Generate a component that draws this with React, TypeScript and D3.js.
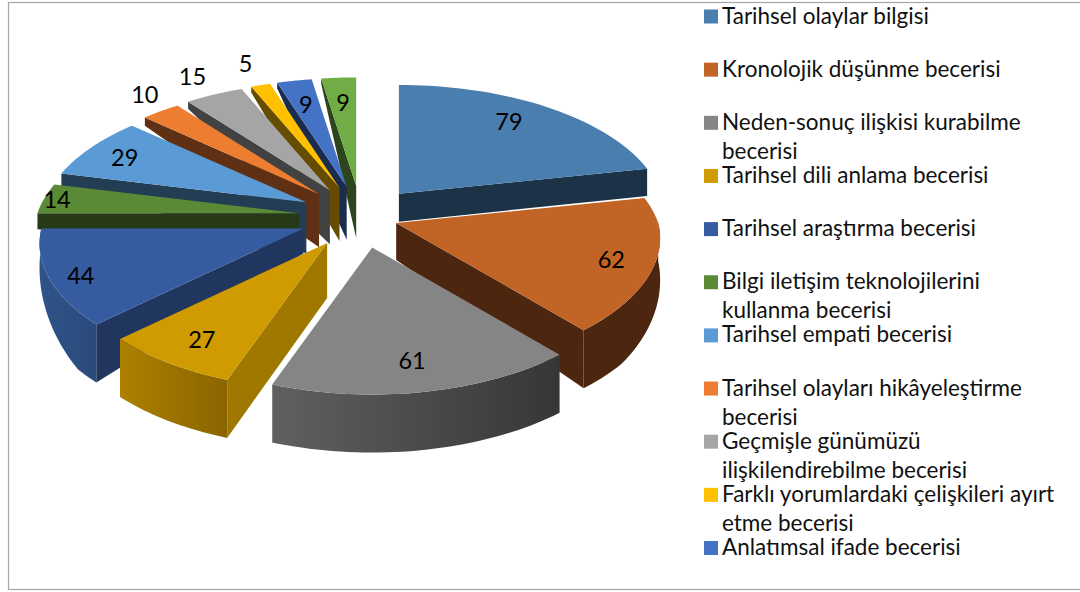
import React from "react";
import * as d3 from "d3";

// values, clockwise from 12 o'clock
const values = [79, 62, 61, 27, 44, 14, 29, 10, 15, 5, 9, 9];
const legendLines = [
  ["Tarihsel olaylar bilgisi"],
  ["Kronolojik düşünme becerisi"],
  ["Neden-sonuç ilişkisi kurabilme", "becerisi"],
  ["Tarihsel dili anlama becerisi"],
  ["Tarihsel araştırma becerisi"],
  ["Bilgi iletişim teknolojilerini", "kullanma becerisi"],
  ["Tarihsel empati becerisi"],
  ["Tarihsel olayları hikâyeleştirme", "becerisi"],
  ["Geçmişle günümüzü", "ilişkilendirebilme becerisi"],
  ["Farklı yorumlardaki çelişkileri ayırt", "etme becerisi"],
  ["Anlatımsal ifade becerisi"],
];

const topColors = ["#4a7eae", "#c26426", "#858585", "#cf9b00", "#355ca0", "#5b8a36", "#5a9ad5", "#ed7d31", "#a5a5a5", "#ffc000", "#4472c4", "#70ad47"];
const sideColors = ["#1b3247", "#4d260f", "#606060", "#a07800", "#20365f", "#263a18", "#233d55", "#5f3014", "#424242", "#664c00", "#1b2d4e", "#2c451c"];
// rim gradient (left, right) for the slices that show their outer wall
const rimColors: Record<number, [string, string]> = {
  1: ["#4d260f", "#4d260f"],
  2: ["#606060", "#363636"],
  3: ["#ad8000", "#8a6500"],
  4: ["#2f5488", "#2b4a7c"],
};

// how far each slice is pulled out of the pie
const explode = [0.97, 0.6, 1, 1, 1, 1, 1, 1, 1, 1, 1, 1];
// wall height at the slice's inner tip
const tipDrop = [28, 37, 37, 55, 25, 40, 51, 53, 54, 53, 53, 52];
// label place inside the slice: share of its angle, share of the radius
const labelT = [0.465, 0.514, 0.51, 0.47, 0.46, 0.5, 0.46, 0.74, 0.5, 0.54, 0.49, 0.515];
const labelR = [0.78, 0.842, 0.81, 0.82, 0.887, 0.949, 0.825, 1.18, 1.22, 1.24, 0.749, 0.749];

const width = 1080;
const height = 592;
const cx = 361;
const cy = 217;
const pullX = 62;
const pullY = 31;
const radiusX = 262;
const radiusY = 125;
const perspBack = 0.16;
const perspFront = 0.12;
const perspY = 0.15;

// wall height by how far back a rim point sits (cos of its angle)
const dropLeft = d3.scaleLinear().domain([-1, -0.6, -0.3, 0, 0.3, 1]).range([58, 58, 36, 16, 12, 5]);
const dropRight = d3.scaleLinear().domain([-1, -0.6, 0, 0.21, 1]).range([58, 58, 38, 27, 5]);
const rimDrop = (a: number) => (Math.sin(a) > 0 ? dropRight : dropLeft)(Math.cos(a));

const arcs = d3.pie<number>().sort(null).startAngle(0).endAngle(2 * Math.PI)(values);

const line = d3.line();
const DEG90 = Math.PI / 2;

const surface = (tip: [number, number], a: number, r = 1): [number, number] => {
  const c = Math.cos(a) * r;
  const perspX = c > 0 ? perspBack : perspFront;
  return [
    tip[0] + (radiusX * r * Math.sin(a)) / (1 + perspX * c),
    tip[1] - (radiusY * c) / (1 + perspY * c),
  ];
};

const sweep = (a0: number, a1: number) => d3.range(0, 41).map((i) => a0 + ((a1 - a0) * i) / 40);

const slices = arcs.map((d, i) => {
  const mid = (d.startAngle + d.endAngle) / 2;
  const tip: [number, number] = [
    cx + pullX * explode[i] * Math.sin(mid),
    cy - pullY * explode[i] * Math.cos(mid),
  ];
  const rim = sweep(d.startAngle, d.endAngle).map((a) => surface(tip, a));
  const top = line([tip, ...rim, tip]);

  // the straight wall that faces the viewer
  let wall: string | null = null;
  const edge = Math.sin(d.endAngle) > 0.001 ? d.endAngle : Math.sin(d.startAngle) < -0.001 ? d.startAngle : null;
  if (edge !== null) {
    const p = surface(tip, edge);
    wall = line([tip, p, [p[0], p[1] + rimDrop(edge)], [tip[0], tip[1] + tipDrop[i]]]);
  }

  // the curved outer wall, front half only
  let outer: string | null = null;
  const from = Math.max(d.startAngle, DEG90);
  const to = Math.min(d.endAngle, 3 * DEG90);
  if (to > from) {
    const angles = sweep(from, to);
    const upper = angles.map((a) => surface(tip, a));
    const lower = angles.map((a) => {
      const p = surface(tip, a);
      return [p[0], p[1] + rimDrop(a)] as [number, number];
    });
    outer = line([...upper, ...lower.reverse()]);
  }

  const la = d.startAngle + (d.endAngle - d.startAngle) * labelT[i];
  const label = surface(tip, la, labelR[i]);
  return { i, value: d.value, top, wall, outer, label };
});

// back slices first, the front ones paint over them
const drawOrder = [11, 10, 9, 8, 7, 6, 5, 4, 0, 1, 2, 3];

const legendY = d3.scaleLinear().domain([0, 10]).range([23.5, 555]);

export default function App() {
  return (
    <svg
      width={width}
      height={height}
      style={{ position: "absolute", left: 0, top: 0, display: "block", background: "#fff" }}
    >
      <defs>
        {Object.keys(rimColors).map((k) => (
          <linearGradient key={k} id={`rim${k}`} x1="0" x2="1" y1="0" y2="0">
            <stop offset="0" stopColor={rimColors[+k][0]} />
            <stop offset="1" stopColor={rimColors[+k][1]} />
          </linearGradient>
        ))}
      </defs>
      <rect x={8.5} y={2.5} width={1200} height={587} fill="#fff" stroke="#a6a6a6" strokeWidth={1.2} />

      {drawOrder.map((i) => {
        const s = slices[i];
        return (
          <g key={i}>
            {s.outer && <path d={s.outer} fill={rimColors[i] ? `url(#rim${i})` : sideColors[i]} />}
            {s.wall && <path d={s.wall} fill={sideColors[i]} />}
            <path d={s.top!} fill={topColors[i]} />
          </g>
        );
      })}

      <g fontFamily="Lato" fontSize={23.5} fill="#000" textAnchor="middle">
        {slices.map((s) => (
          <text key={s.i} x={s.label[0]} y={s.label[1]} dy="0.36em">
            {s.value}
          </text>
        ))}
      </g>

      <g fontFamily="Lato" fontSize={22.5} fill="#111">
        {legendLines.map((lines, i) => (
          <g key={i}>
            <rect x={704} y={legendY(i) - 14} width={14} height={14} fill={topColors[i]} />
            {lines.map((t, j) => (
              <text key={j} x={722} y={legendY(i) + j * 29}>
                {t}
              </text>
            ))}
          </g>
        ))}
      </g>
    </svg>
  );
}
